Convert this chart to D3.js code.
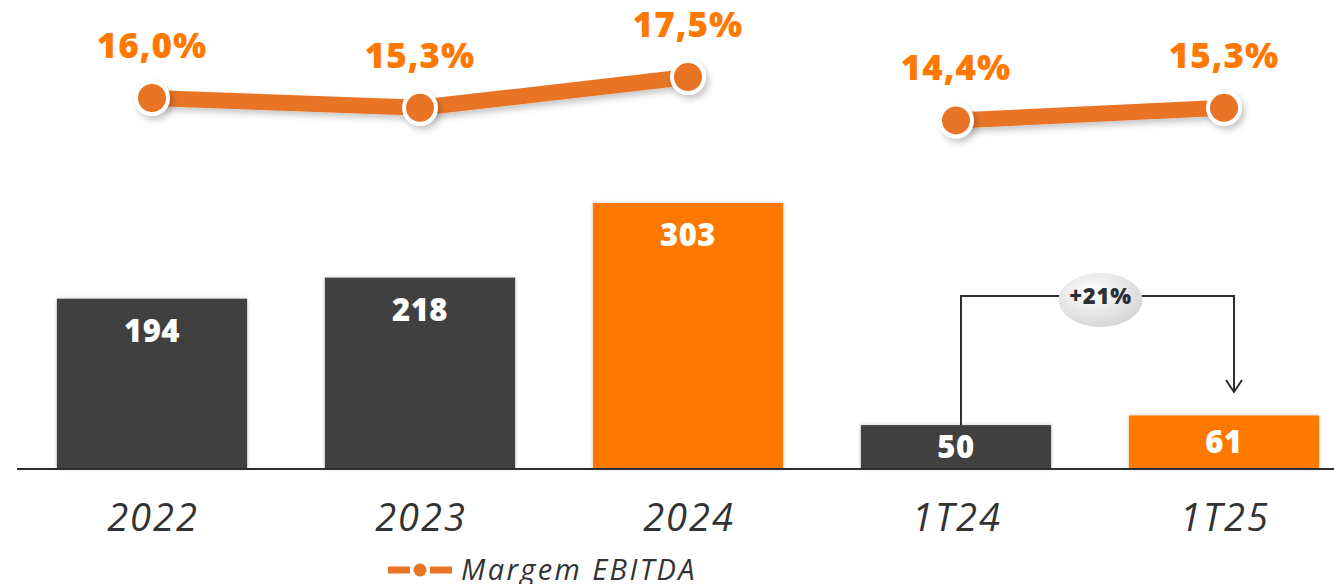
<!DOCTYPE html>
<html>
<head>
<meta charset="utf-8">
<script src="https://cdn.jsdelivr.net/npm/d3@7"></script>
<style>
  html, body { margin: 0; padding: 0; background: #fff; }
  svg { display: block; font-family: "Open Sans", "Noto Sans", sans-serif; }
</style>
</head>
<body>
<div id="chart"></div>
<script>
// chart data
var categories = ["2022", "2023", "2024", "1T24", "1T25"];
var ebitda = [194, 218, 303, 50, 61];
var margem = [16.0, 15.3, 17.5, 14.4, 15.3];
var margemLabels = ["16,0%", "15,3%", "17,5%", "14,4%", "15,3%"];
var highlighted = ["2024", "1T25"];
var lineGroups = [["2022", "2023", "2024"], ["1T24", "1T25"]];
var growthLabel = "+21%";
var legendLabel = "Margem EBITDA";

var width = 1334, height = 584;
var baseY = 469;
var dark = "#404040", orange = "#FF7900", lineOrange = "#E87425";

var svg = d3.select("#chart").append("svg")
  .attr("width", width).attr("height", height);

var defs = svg.append("defs");
// shadow region in user space so flat lines don't get clipped
var shadow = defs.append("filter").attr("id", "shadow")
  .attr("filterUnits", "userSpaceOnUse")
  .attr("x", 0).attr("y", 0).attr("width", width).attr("height", height);
shadow.append("feDropShadow").attr("dx", 3).attr("dy", 4).attr("stdDeviation", 3)
  .attr("flood-color", "#000").attr("flood-opacity", 0.22);
var barShadow = defs.append("filter").attr("id", "barShadow")
  .attr("x", "-10%").attr("y", "-10%").attr("width", "120%").attr("height", "120%");
barShadow.append("feDropShadow").attr("dx", 0).attr("dy", 0).attr("stdDeviation", 2)
  .attr("flood-color", "#000").attr("flood-opacity", 0.2);
var grad = defs.append("radialGradient").attr("id", "bubble")
  .attr("cx", "40%").attr("cy", "35%").attr("r", "70%");
grad.append("stop").attr("offset", "0%").attr("stop-color", "#ffffff");
grad.append("stop").attr("offset", "100%").attr("stop-color", "#d4d4d4");

var x = d3.scaleBand().domain(categories).range([18, 1358])
  .paddingInner(0.29).paddingOuter(0.145);
var y = d3.scaleLinear().domain([0, 303]).range([baseY, baseY - 266]);
var ym = d3.scaleLinear().domain([10, 20]).range([182, 42]);

var data = categories.map(function (c, i) {
  return { cat: c, value: ebitda[i], margem: margem[i], label: margemLabels[i] };
});

// bars
svg.append("g").selectAll("rect").data(data).join("rect")
  .attr("x", function (d) { return x(d.cat); })
  .attr("y", function (d) { return y(d.value); })
  .attr("width", x.bandwidth())
  .attr("height", function (d) { return baseY - y(d.value); })
  .attr("fill", function (d) { return highlighted.indexOf(d.cat) >= 0 ? orange : dark; })
  .attr("filter", "url(#barShadow)");

// bar value labels
svg.append("g").selectAll("text").data(data).join("text")
  .attr("x", function (d) { return x(d.cat) + x.bandwidth() / 2; })
  .attr("y", function (d) {
    var top = y(d.value);
    if (baseY - top < 80) return (top + baseY) / 2 + 11;
    return top + 43;
  })
  .attr("text-anchor", "middle")
  .attr("fill", "#fff").attr("font-size", 31).attr("font-weight", 800)
  .attr("letter-spacing", 0.5)
  .text(function (d) { return d.value; });

// axis line
svg.append("line").attr("x1", 17).attr("x2", width).attr("y1", baseY).attr("y2", baseY)
  .attr("stroke", "#2b2f33").attr("stroke-width", 2);

// category labels
svg.append("g").selectAll("text").data(categories).join("text")
  .attr("x", function (d) { return x(d) + x.bandwidth() / 2 + 1; })
  .attr("y", 531)
  .attr("text-anchor", "middle")
  .attr("fill", "#333").attr("font-size", 38).attr("font-style", "italic")
  .attr("letter-spacing", 2)
  .text(function (d) { return d; });

// margin line
var line = d3.line()
  .x(function (d) { return x(d.cat) + x.bandwidth() / 2; })
  .y(function (d) { return ym(d.margem); });

lineGroups.forEach(function (g) {
  var pts = data.filter(function (d) { return g.indexOf(d.cat) >= 0; });
  svg.append("path").datum(pts).attr("d", line)
    .attr("fill", "none").attr("stroke", lineOrange).attr("stroke-width", 16)
    .attr("filter", "url(#shadow)");
});

svg.append("g").selectAll("circle").data(data).join("circle")
  .attr("cx", function (d) { return x(d.cat) + x.bandwidth() / 2; })
  .attr("cy", function (d) { return ym(d.margem); })
  .attr("r", 16)
  .attr("fill", lineOrange).attr("stroke", "#fff").attr("stroke-width", 4)
  .attr("filter", "url(#shadow)");

svg.append("g").selectAll("text").data(data).join("text")
  .attr("x", function (d) { return x(d.cat) + x.bandwidth() / 2; })
  .attr("y", function (d) { return ym(d.margem) - 40; })
  .attr("text-anchor", "middle")
  .attr("fill", orange).attr("font-size", 35).attr("font-weight", 800)
  .attr("letter-spacing", 1)
  .text(function (d) { return d.label; });

// growth arrow between 1T24 and 1T25
var xa = x("1T24") + x.bandwidth() / 2 + 5;
var xb = x("1T25") + x.bandwidth() / 2 + 10;
var topY = 296;
var arrow = svg.append("g").attr("stroke", "#2b2f33").attr("stroke-width", 2).attr("fill", "none");
arrow.append("path").attr("d", "M" + xa + "," + y(ebitda[3]) + "V" + topY + "H" + xb + "V" + 391);
arrow.append("path").attr("d", "M" + (xb - 8) + "," + 380 + "L" + xb + "," + 392 + "L" + (xb + 8) + "," + 380);

var bx = (xa + xb) / 2 + 3;
svg.append("ellipse").attr("cx", bx).attr("cy", topY + 4).attr("rx", 42).attr("ry", 27)
  .attr("fill", "url(#bubble)");
svg.append("text").attr("x", bx).attr("y", topY + 8)
  .attr("text-anchor", "middle").attr("fill", "#2b2f33")
  .attr("font-size", 22).attr("font-weight", 800).attr("letter-spacing", 0.8)
  .text(growthLabel);

// legend
var lg = svg.append("g").attr("transform", "translate(388,570)");
lg.append("line").attr("x1", 0).attr("x2", 64).attr("y1", 0).attr("y2", 0)
  .attr("stroke", lineOrange).attr("stroke-width", 7).attr("stroke-dasharray", "22,8,4,8,22");
lg.append("circle").attr("cx", 32).attr("cy", 0).attr("r", 6.5).attr("fill", lineOrange);
lg.append("text").attr("x", 73).attr("y", 10)
  .attr("fill", "#333").attr("font-size", 29).attr("font-style", "italic")
  .attr("letter-spacing", 2.4)
  .text(legendLabel);
</script>
</body>
</html>
